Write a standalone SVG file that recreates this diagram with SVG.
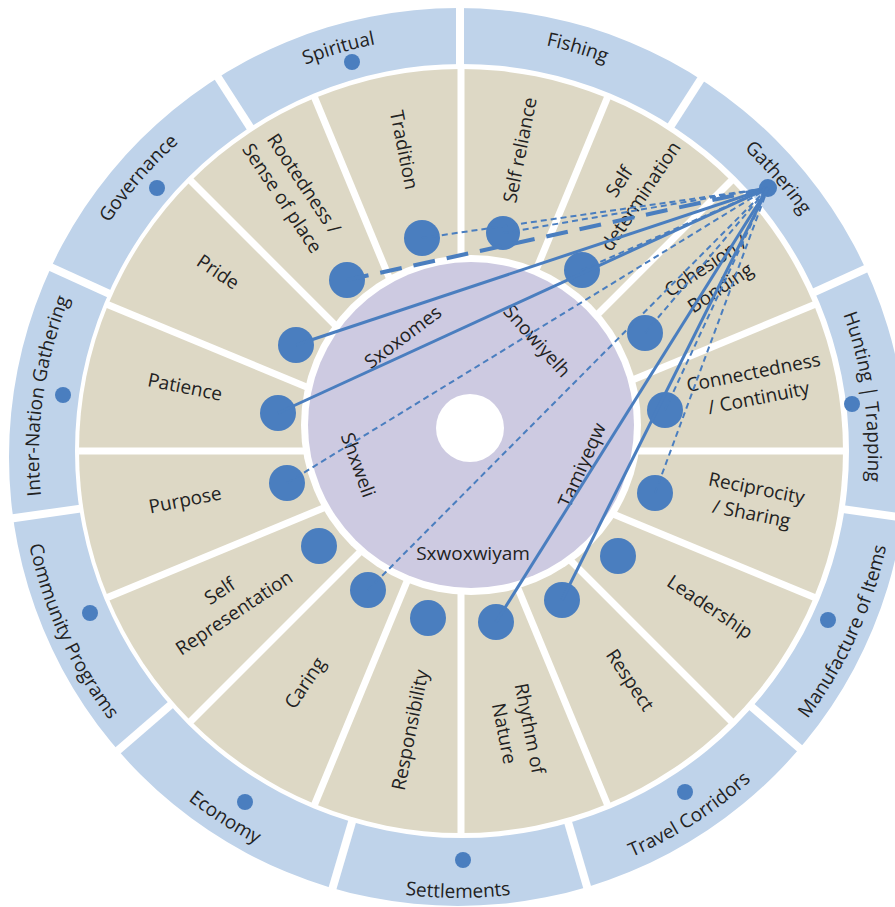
<svg xmlns="http://www.w3.org/2000/svg" width="895" height="907" viewBox="0 0 895 907">
<style>
text { font-family: "Open Sans", "Liberation Sans", sans-serif; fill: #222; font-size: 19px; }
.ring { fill: #bfd3ea; fill-rule: evenodd; }
.beige { fill: #ddd8c5; }
.purple { fill: #cdcae1; }
.wdiv { stroke: #fff; stroke-width: 7; fill: none; }
.bdiv { stroke: #fff; stroke-width: 8; fill: none; }
.dot { fill: #4a7ebf; }
.sdot { fill: #4a7ebf; }
.solid { stroke: #4a7ebf; stroke-width: 3; fill: none; }
.dash { stroke: #4a7ebf; stroke-width: 2; stroke-dasharray: 6 4; fill: none; }
.ldash { stroke: #4a7ebf; stroke-width: 4; stroke-dasharray: 22 12; fill: none; }
</style>
<defs>
<path id="p-spiritual" d="M154.8,165.8 A419,419 0 0,1 556.8,47.8"/>
<path id="p-fishing" d="M359.2,47.8 A419,419 0 0,1 761.2,165.8"/>
<path id="p-gathering" d="M595.0,59.0 A419,419 0 0,1 869.4,375.7"/>
<path id="p-hunting" d="M780.3,201.6 A410,410 0 0,1 838.6,607.4"/>
<path id="p-internation" d="M69.0,610.7 A419,419 0 0,1 128.6,196.1"/>
<path id="p-governance" d="M46.6,375.7 A419,419 0 0,1 321.0,59.0"/>
<path id="p-manufacture" d="M712.0,811.8 A438,438 0 0,0 894.0,413.4"/>
<path id="p-travel" d="M478.8,892.5 A438,438 0 0,0 847.3,655.7"/>
<path id="p-settlements" d="M236.5,838.6 A443,443 0 0,0 679.5,838.6"/>
<path id="p-economy" d="M68.7,655.7 A438,438 0 0,0 437.2,892.5"/>
<path id="p-community" d="M22.0,413.4 A438,438 0 0,0 204.0,811.8"/>
</defs>

<g id="background">
<path class="ring" d="M9,457 a449,449 0 1,0 898,0 a449,449 0 1,0 -898,0 Z M75,451 a387,387 0 1,0 774,0 a387,387 0 1,0 -774,0 Z"/>
<g class="bdiv">
<line x1="460" y1="74" x2="460" y2="-16"/>
<line x1="665.4" y1="134.3" x2="714.1" y2="58.6"/>
<line x1="805.6" y1="296.1" x2="887.5" y2="258.8"/>
<line x1="836.1" y1="508.1" x2="925.2" y2="520.9"/>
<line x1="747.2" y1="702.9" x2="815.2" y2="761.8"/>
<line x1="567.0" y1="818.6" x2="592.4" y2="905.0"/>
<line x1="353.0" y1="818.6" x2="327.6" y2="905.0"/>
<line x1="172.8" y1="702.9" x2="104.8" y2="761.8"/>
<line x1="83.9" y1="508.1" x2="-5.2" y2="520.9"/>
<line x1="114.4" y1="296.1" x2="32.5" y2="258.8"/>
<line x1="254.6" y1="134.3" x2="205.9" y2="58.6"/>
</g>
<circle class="beige" cx="461" cy="451" r="382"/>
<g class="wdiv">
<line x1="461" y1="67" x2="461" y2="835"/>
<line x1="608" y1="96.2" x2="314" y2="805.8"/>
<line x1="732.5" y1="179.5" x2="189.5" y2="722.5"/>
<line x1="815.8" y1="304" x2="106.2" y2="598"/>
<line x1="845" y1="451" x2="77" y2="451"/>
<line x1="815.8" y1="598" x2="106.2" y2="304"/>
<line x1="732.5" y1="722.5" x2="189.5" y2="179.5"/>
<line x1="608" y1="805.8" x2="314" y2="96.2"/>
</g>
<circle cx="471" cy="425" r="170" fill="#fff"/>
<circle class="purple" cx="471" cy="425" r="163"/>
<circle cx="470" cy="428" r="34" fill="#fff"/>
</g>

<g id="outer-nodes">
<g id="spiritual"><text><textPath href="#p-spiritual" startOffset="50%" text-anchor="middle">Spiritual</textPath></text><circle class="sdot" cx="352" cy="62" r="8"/></g>
<g id="fishing"><text><textPath href="#p-fishing" startOffset="50%" text-anchor="middle">Fishing</textPath></text></g>
<g id="gathering"><text><textPath href="#p-gathering" startOffset="50%" text-anchor="middle">Gathering</textPath></text><circle class="sdot" cx="768" cy="188" r="9"/></g>
<g id="hunting"><text><textPath href="#p-hunting" startOffset="50%" text-anchor="middle">Hunting | Trapping</textPath></text><circle class="sdot" cx="852" cy="404" r="8"/></g>
<g id="manufacture"><text><textPath href="#p-manufacture" startOffset="50%" text-anchor="middle">Manufacture of Items</textPath></text><circle class="sdot" cx="828" cy="620" r="8"/></g>
<g id="travel"><text><textPath href="#p-travel" startOffset="50%" text-anchor="middle">Travel Corridors</textPath></text><circle class="sdot" cx="685" cy="792" r="8"/></g>
<g id="settlements"><text><textPath href="#p-settlements" startOffset="50%" text-anchor="middle">Settlements</textPath></text><circle class="sdot" cx="463" cy="860" r="8"/></g>
<g id="economy"><text><textPath href="#p-economy" startOffset="50%" text-anchor="middle">Economy</textPath></text><circle class="sdot" cx="245" cy="802" r="8"/></g>
<g id="community"><text><textPath href="#p-community" startOffset="50%" text-anchor="middle">Community Programs</textPath></text><circle class="sdot" cx="90" cy="613" r="8"/></g>
<g id="internation"><text><textPath href="#p-internation" startOffset="50%" text-anchor="middle">Inter-Nation Gathering</textPath></text><circle class="sdot" cx="63" cy="395" r="8"/></g>
<g id="governance"><text><textPath href="#p-governance" startOffset="50%" text-anchor="middle">Governance</textPath></text><circle class="sdot" cx="157" cy="188" r="8"/></g>
</g>

<g id="value-nodes" text-anchor="middle">
<g id="tradition"><text transform="translate(404,150) rotate(78.75)" y="6.5">Tradition</text><circle class="dot" cx="422" cy="238" r="18"/></g>
<g id="self-reliance"><text transform="translate(520,150) rotate(-78.75)" y="6.5">Self reliance</text><circle class="dot" cx="503" cy="233" r="17"/></g>
<g id="self-determination"><text transform="translate(630,189) rotate(-56.25)"><tspan x="0" y="-6.5">Self</tspan><tspan x="0" y="19.5">determination</tspan></text><circle class="dot" cx="582" cy="270" r="18"/></g>
<g id="cohesion"><text transform="translate(713,277) rotate(-33.75)"><tspan x="0" y="-6.5">Cohesion /</tspan><tspan x="0" y="19.5">Bonding</tspan></text><circle class="dot" cx="645" cy="333" r="18"/></g>
<g id="connectedness"><text transform="translate(756,385) rotate(-11.25)"><tspan x="0" y="-6.5">Connectedness</tspan><tspan x="0" y="19.5">/ Continuity</tspan></text><circle class="dot" cx="665" cy="410" r="18"/></g>
<g id="reciprocity"><text transform="translate(754,501) rotate(11.25)"><tspan x="0" y="-6.5">Reciprocity</tspan><tspan x="0" y="19.5">/ Sharing</tspan></text><circle class="dot" cx="655" cy="493" r="18"/></g>
<g id="leadership"><text transform="translate(710,607) rotate(33.75)" y="6.5">Leadership</text><circle class="dot" cx="618" cy="556" r="18"/></g>
<g id="respect"><text transform="translate(630,680) rotate(56.25)" y="6.5">Respect</text><circle class="dot" cx="562" cy="600" r="18"/></g>
<g id="rhythm"><text transform="translate(517,731) rotate(78.75)"><tspan x="0" y="-6.5">Rhythm of</tspan><tspan x="0" y="19.5">Nature</tspan></text><circle class="dot" cx="496" cy="622" r="18"/></g>
<g id="responsibility"><text transform="translate(410,730) rotate(-78.75)" y="6.5">Responsibility</text><circle class="dot" cx="428" cy="618" r="18"/></g>
<g id="caring"><text transform="translate(305,683) rotate(-56.25)" y="6.5">Caring</text><circle class="dot" cx="368" cy="590" r="18"/></g>
<g id="self-representation"><text transform="translate(227,602) rotate(-33.75)"><tspan x="0" y="-6.5">Self</tspan><tspan x="0" y="19.5">Representation</tspan></text><circle class="dot" cx="319" cy="546" r="18"/></g>
<g id="purpose"><text transform="translate(185,500) rotate(-11.25)" y="6.5">Purpose</text><circle class="dot" cx="287" cy="483" r="18"/></g>
<g id="patience"><text transform="translate(185,387) rotate(11.25)" y="6.5">Patience</text><circle class="dot" cx="278" cy="413" r="18"/></g>
<g id="pride"><text transform="translate(218,272) rotate(33.75)" y="6.5">Pride</text><circle class="dot" cx="296" cy="345" r="18"/></g>
<g id="rootedness"><text transform="translate(293,191) rotate(56.25)"><tspan x="0" y="-6.5">Rootedness /</tspan><tspan x="0" y="19.5">Sense of place</tspan></text><circle class="dot" cx="347" cy="280" r="18"/></g>
</g>

<g id="core-labels" text-anchor="middle">
<g id="sxoxomes"><text transform="translate(403,337) rotate(-37)" y="6.5">Sxoxomes</text></g>
<g id="snowiyelh"><text transform="translate(537,341) rotate(48)" y="6.5">Snowiyelh</text></g>
<g id="shxweli"><text transform="translate(358,465) rotate(70)" y="6.5">Shxweli</text></g>
<g id="sxwoxwiyam"><text transform="translate(473,553)" y="6.5">Sxwoxwiyam</text></g>
<g id="tamiyeqw"><text transform="translate(582,465) rotate(-66)" y="6.5">Tamiyeqw</text></g>
</g>

<g id="connectors">
<line class="dash" x1="422" y1="238" x2="768" y2="188"/>
<line class="dash" x1="503" y1="233" x2="768" y2="188"/>
<line class="ldash" x1="347" y1="280" x2="768" y2="188"/>
<line class="solid" x1="296" y1="345" x2="768" y2="188"/>
<line class="solid" x1="278" y1="413" x2="768" y2="188"/>
<line class="dash" x1="582" y1="270" x2="768" y2="188"/>
<line class="dash" x1="287" y1="483" x2="768" y2="188"/>
<line class="dash" x1="368" y1="590" x2="768" y2="188"/>
<line class="dash" x1="645" y1="333" x2="768" y2="188"/>
<line class="dash" x1="665" y1="410" x2="768" y2="188"/>
<line class="dash" x1="655" y1="493" x2="768" y2="188"/>
<line class="solid" x1="562" y1="600" x2="768" y2="188"/>
<line class="solid" x1="496" y1="622" x2="768" y2="188"/>
</g>
</svg>
